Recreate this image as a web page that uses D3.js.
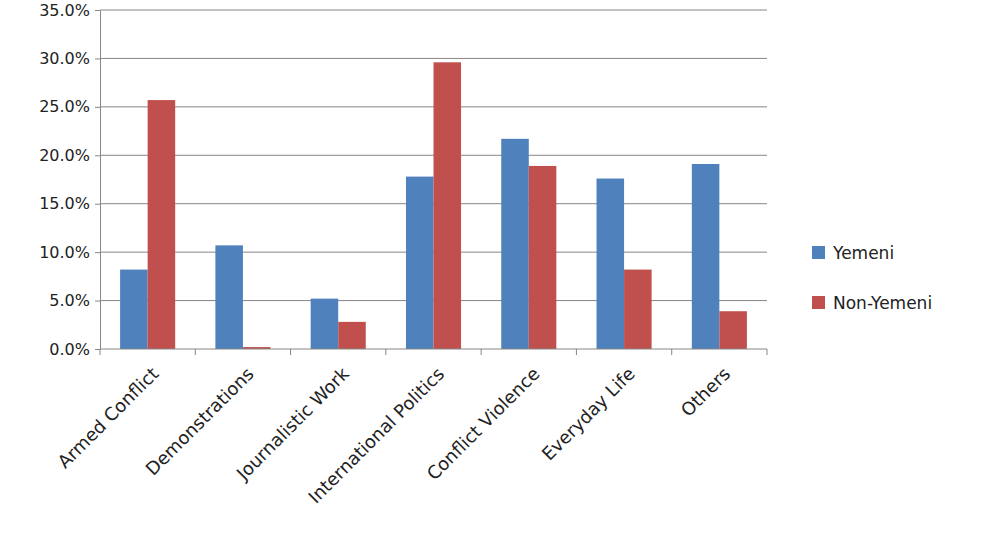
<!DOCTYPE html><html><head><script src="https://cdn.jsdelivr.net/npm/d3@7"></script>
<style>body{margin:0;background:#fff}text{font-family:"DejaVu Sans",Arial,sans-serif}</style></head><body>
<svg id="c" width="982" height="555"></svg>
<script>
const categories=["Armed Conflict","Demonstrations","Journalistic Work","International Politics","Conflict Violence","Everyday Life","Others"];
const series=["Yemeni","Non-Yemeni"];
const yemeni=[8.2,10.7,5.2,17.8,21.7,17.6,19.1];
const nonYemeni=[25.7,0.2,2.8,29.6,18.9,8.2,3.9];
const yTicks=[0,5,10,15,20,25,30,35];
const colors=["#4F81BD","#C0504D"];
const svg=d3.select("#c");
const L=100,R=767,T=10,B=349;
const x=d3.scaleBand().domain(categories).range([L,R]);
const xs=d3.scaleBand().domain(series).range([0,x.bandwidth()]).paddingInner(0).paddingOuter(0.73);
const y=d3.scaleLinear().domain([0,35]).range([B,T]);
svg.append("g").selectAll("line").data(yTicks.slice(1)).join("line")
 .attr("x1",L).attr("x2",R).attr("y1",d=>y(d)).attr("y2",d=>y(d)).attr("stroke","#868686");
const ya=svg.append("g").attr("transform",`translate(${L},0)`).call(d3.axisLeft(y).tickValues(yTicks).tickFormat(d=>d.toFixed(1)+"%").tickSize(5).tickSizeOuter(0));
ya.selectAll("text").attr("font-size",16).attr("fill","#222").attr("dx",-2);
ya.selectAll("line,path").attr("stroke","#868686");
const data=[yemeni,nonYemeni];
series.forEach((s,i)=>{
 svg.append("g").selectAll("rect").data(categories).join("rect")
  .attr("x",c=>x(c)+xs(s)).attr("width",xs.bandwidth())
  .attr("y",(c,j)=>y(data[i][j])).attr("height",(c,j)=>B-y(data[i][j])).attr("fill",colors[i]);
});
svg.append("line").attr("x1",L).attr("x2",R).attr("y1",B).attr("y2",B).attr("stroke","#868686");
svg.append("g").selectAll("line").data(d3.range(categories.length+1)).join("line")
 .attr("x1",i=>L+i*x.step()).attr("x2",i=>L+i*x.step()).attr("y1",B).attr("y2",B+6).attr("stroke","#868686");
svg.append("g").selectAll("text").data(categories).join("text")
 .attr("transform",c=>`translate(${x(c)+x.bandwidth()/2+12},${B+26}) rotate(-45)`)
 .attr("text-anchor","end").attr("font-size",18).attr("fill","#222").text(c=>c);
series.forEach((s,i)=>{
 const g=svg.append("g").attr("transform",`translate(812,${253+i*50})`);
 g.append("rect").attr("x",0).attr("y",-7).attr("width",13).attr("height",13).attr("fill",colors[i]);
 g.append("text").attr("x",21).attr("y",6).attr("font-size",17).attr("fill","#222").text(s);
});
</script></body></html>
